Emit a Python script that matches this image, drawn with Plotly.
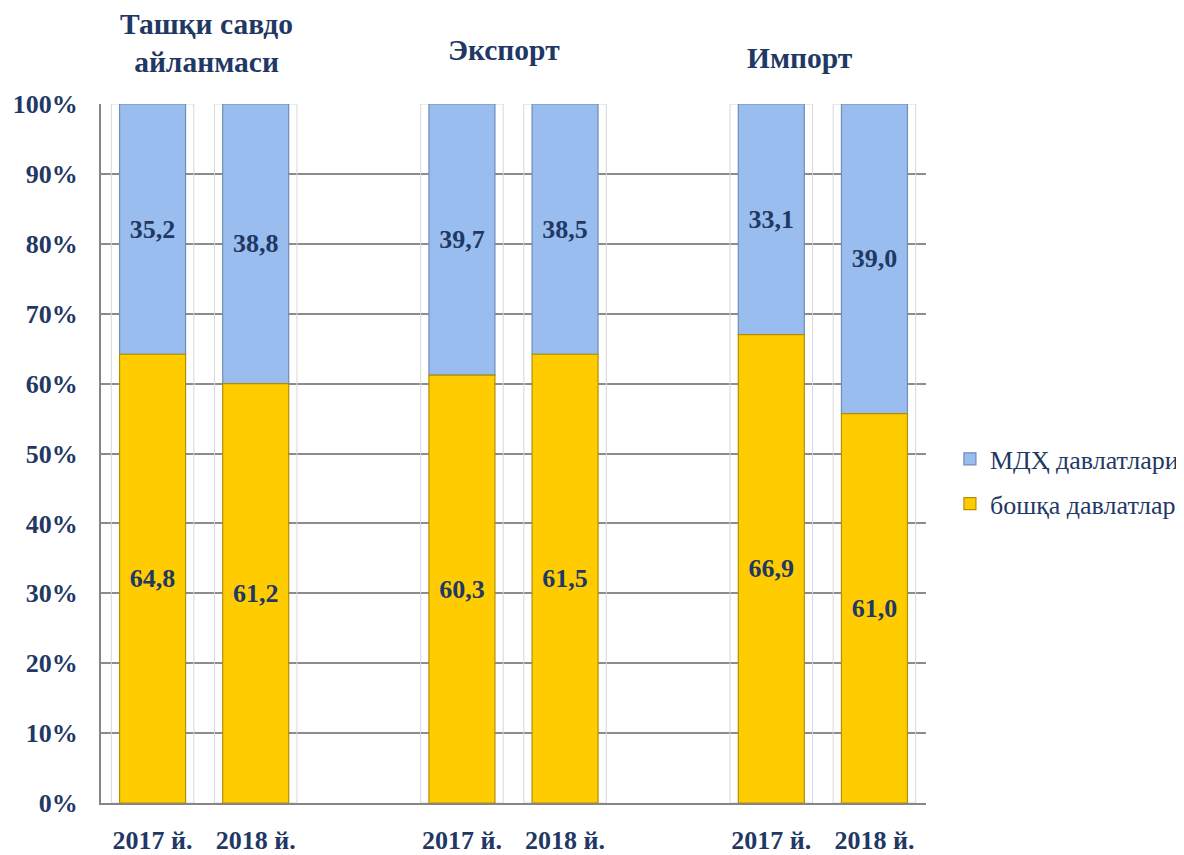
import plotly.graph_objects as go

# Categories (with empty spacer slots between groups)
categories = ["ts2017", "ts2018", "gap1", "ex2017", "ex2018", "gap2", "im2017", "im2018"]
tick_labels = ["2017 й.", "2018 й.", "", "2017 й.", "2018 й.", "", "2017 й.", "2018 й."]
bar_categories = ["ts2017", "ts2018", "ex2017", "ex2018", "im2017", "im2018"]

# Bar heights as drawn (percent share)
other_share = [64.2, 60.0, 61.2, 64.2, 67.0, 55.7]
cis_share = [35.8, 40.0, 38.8, 35.8, 33.0, 44.3]

# Data labels as printed on the chart
other_labels = ["64,8", "61,2", "60,3", "61,5", "66,9", "61,0"]
cis_labels = ["35,2", "38,8", "39,7", "38,5", "33,1", "39,0"]

group_titles = ["Ташқи савдо<br>айланмаси", "Экспорт", "Импорт"]
series_names = ["бошқа давлатлар", "МДҲ давлатлари"]
full_share = [100, 100, 100, 100, 100, 100]

NAVY = "#1F3864"
SERIF = "Liberation Serif, DejaVu Serif"

fig = go.Figure()

# faint shadow boxes behind bars
fig.add_trace(go.Bar(
    x=bar_categories, y=full_share, width=0.8,
    marker=dict(color="rgba(255,255,255,0)", line=dict(color="#D8D8D8", width=1)),
    showlegend=False, hoverinfo="skip",
))

fig.add_trace(go.Bar(
    x=bar_categories, y=cis_share, base=other_share, name=series_names[1], width=0.64,
    marker=dict(color="#99BDEE", line=dict(color="#6F8DB8", width=1.2)),
    text=cis_labels, textposition="inside", insidetextanchor="middle",
    textfont=dict(family=SERIF, size=26, color=NAVY, weight="bold"), textangle=0,
    legendgroup="a",
))
fig.add_trace(go.Bar(
    x=bar_categories, y=other_share, name=series_names[0], width=0.64,
    marker=dict(color="#FFCC00", line=dict(color="#B38F00", width=1.2)),
    text=other_labels, textposition="inside", insidetextanchor="middle",
    textfont=dict(family=SERIF, size=26, color=NAVY, weight="bold"), textangle=0,
    legendgroup="b",
))

title_x = [0.128, 0.489, 0.847]
title_y = [1.087, 1.077, 1.066]
for t, xx, yy in zip(group_titles, title_x, title_y):
    fig.add_annotation(
        text=t, x=xx, y=yy, xref="paper", yref="paper",
        xanchor="center", yanchor="middle", showarrow=False,
        font=dict(family=SERIF, size=29.5, color=NAVY, weight="bold"),
    )

fig.update_layout(
    width=1184, height=855,
    barmode="overlay",
    plot_bgcolor="white", paper_bgcolor="white",
    margin=dict(l=93, r=266, t=96, b=60, autoexpand=False),
    font=dict(family=SERIF, color=NAVY),
    showlegend=True,
    legend=dict(
        x=1.029, y=0.46, xanchor="left", yanchor="middle",
        traceorder="grouped", tracegroupgap=8, itemwidth=30,
        font=dict(family=SERIF, size=26, color=NAVY),
        bgcolor="rgba(0,0,0,0)",
    ),
    uniformtext=dict(mode=False),
)

fig.update_xaxes(
    type="category", categoryorder="array", categoryarray=categories,
    tickvals=categories, ticktext=tick_labels,
    range=[-0.5, 7.5], automargin=False,
    showgrid=False, showline=True, linecolor="#868686", linewidth=2,
    ticks="", ticklabelstandoff=13,
    tickfont=dict(family=SERIF, size=26, color=NAVY, weight="bold"),
)
fig.update_yaxes(
    range=[0, 100], tickvals=list(range(0, 101, 10)),
    ticktext=["%d%%" % v for v in range(0, 101, 10)], automargin=False,
    showgrid=True, gridcolor="#8C8C8C", gridwidth=1.5,
    showline=True, linecolor="#868686", linewidth=2,
    ticks="", ticklabelstandoff=16, zeroline=False,
    tickfont=dict(family=SERIF, size=26, color=NAVY, weight="bold"),
)

fig.write_html("out.html")
